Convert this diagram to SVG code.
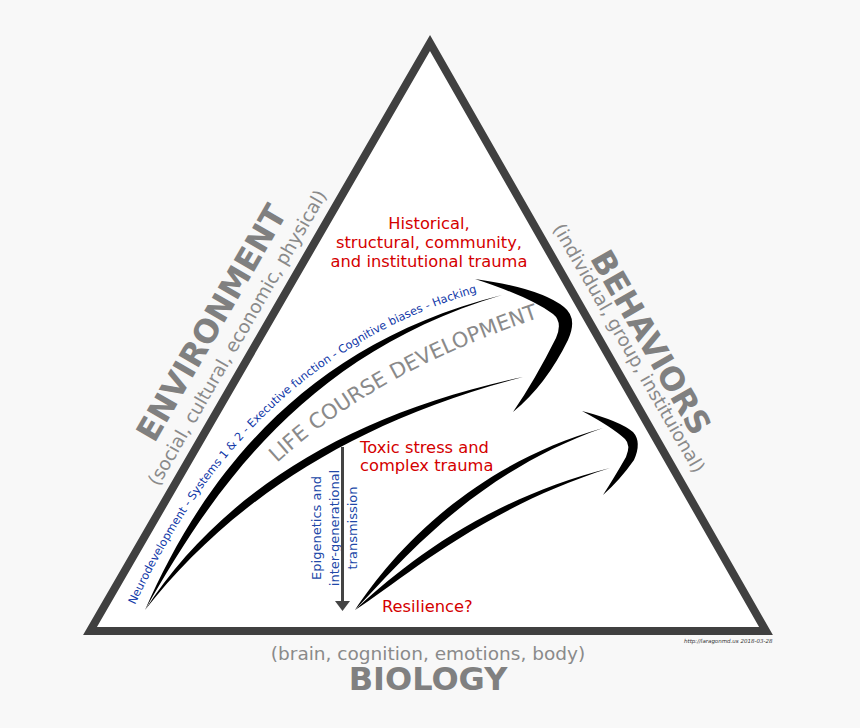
<svg xmlns="http://www.w3.org/2000/svg" width="860" height="728" viewBox="0 0 860 728">
<style>
.big{font-family:"DejaVu Sans",sans-serif;font-weight:bold;font-size:32px;fill:#808080;text-anchor:middle}
.sub{font-family:"DejaVu Sans",sans-serif;font-size:18.5px;fill:#8a8a8a;text-anchor:middle}
.red{font-family:"DejaVu Sans",sans-serif;font-size:16.3px;fill:#d40000}
.blue{font-family:"DejaVu Sans",sans-serif;font-size:11.3px;fill:#1038a8}
.blue2{font-family:"DejaVu Sans",sans-serif;font-size:13px;fill:#2148a8;text-anchor:middle}
.swoosh{fill:#000}
</style>
<defs>
<path id="tpBlue" d="M135,605 C191,484 292,338 500,286"/>
<path id="tpLife" d="M277,463 Q380,368 554,313"/>
</defs>
<rect width="860" height="728" fill="#f8f8f8"/>
<g id="triangle">
<polygon points="430,43 90,631 766,631" fill="#fff" stroke="#404040" stroke-width="8" stroke-linejoin="miter"/>
</g>
<g id="environment" transform="translate(260,337) rotate(-60)">
<text class="big" x="-12" y="-38">ENVIRONMENT</text>
<text class="sub" x="-12" y="-13">(social, cultural, economic, physical)</text>
</g>
<g id="behaviors" transform="translate(598,337) rotate(60)">
<text class="big" x="31" y="-32">BEHAVIORS</text>
<text class="sub" x="25" y="-15">(individual, group, instituional)</text>
</g>
<g id="biology">
<text class="sub" x="428" y="660">(brain, cognition, emotions, body)</text>
<text class="big" x="428" y="690">BIOLOGY</text>
</g>
<g id="historical">
<text class="red" x="429" y="229" text-anchor="middle">Historical,</text>
<text class="red" x="429" y="248" text-anchor="middle">structural, community,</text>
<text class="red" x="429" y="267" text-anchor="middle">and institutional trauma</text>
</g>
<g id="toxic">
<text class="red" x="360" y="453">Toxic stress and</text>
<text class="red" x="360" y="471">complex trauma</text>
</g>
<g id="resilience">
<text class="red" x="382" y="612">Resilience?</text>
</g>
<g id="neuro">
<text class="blue"><textPath href="#tpBlue">Neurodevelopment - Systems 1 &amp; 2 - Executive function - Cognitive biases - Hacking</textPath></text>
</g>
<g id="lifecourse">
<text style="font-family:'DejaVu Sans',sans-serif;font-size:21px;fill:#8a8a8a"><textPath href="#tpLife">LIFE COURSE DEVELOPMENT</textPath></text>
</g>
<g id="epigenetics" class="blue2">
<text transform="translate(321,528) rotate(-90)">Epigenetics and</text>
<text transform="translate(339,528) rotate(-90)">inter-generational</text>
<text transform="translate(357,528) rotate(-90)">transmission</text>
</g>
<g id="connectors">
<path class="swoosh" d="M145,610 C199,486.4 297.25,345.8 502,295 C302.75,354.2 211,493.6 145,610 Z"/>
<path class="swoosh" d="M145,610 C215.8,500.7 338.2,415.9 523,377 C341.8,424.1 224.2,509.3 145,610 Z"/>
<path class="swoosh" d="M475,279 Q540,288 564,307 Q578,318 568,340 Q546,385 513,412 Q535,380 556,338 Q563,322 553,314 Q530,297 475,279 Z"/>
<path class="swoosh" d="M355,610 C390.4,556.2 467.6,466.2 603,428 C472.4,473.8 399.6,563.8 355,610 Z"/>
<path class="swoosh" d="M355,610 C396.8,571.1 478.2,501.4 610,468 C481.8,508.6 403.2,578.9 355,610 Z"/>
<path class="swoosh" d="M582,411 Q620,421 633,432 Q642,442 634,460 Q620,480 603,495 Q614,478 626,457 Q631,445 625,439 Q612,427 582,411 Z"/>
<line x1="342.5" y1="447" x2="342.5" y2="603" stroke="#444" stroke-width="3"/>
<polygon points="335,601 350,601 342.5,611" fill="#444"/>
</g>
<text x="684" y="643" style="font-family:'DejaVu Sans',sans-serif;font-size:5.5px;font-style:italic;fill:#333">http://laragonmd.us 2018-03-28</text>
</svg>
